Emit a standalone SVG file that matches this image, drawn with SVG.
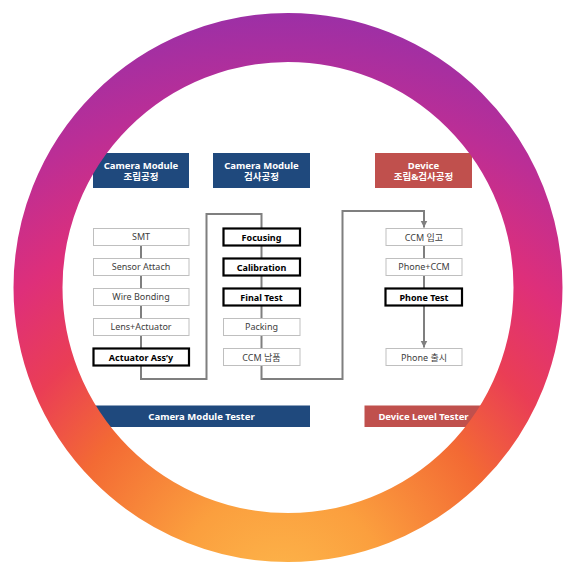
<svg xmlns="http://www.w3.org/2000/svg" width="578" height="574" viewBox="0 0 578 574">
<defs>
<radialGradient id="ringGrad" gradientUnits="userSpaceOnUse" cx="280" cy="600" r="610">
<stop offset="0" stop-color="#fdb84c"/>
<stop offset="0.18" stop-color="#fb9f3e"/>
<stop offset="0.38" stop-color="#f36a34"/>
<stop offset="0.52" stop-color="#ea3e55"/>
<stop offset="0.66" stop-color="#de2f7a"/>
<stop offset="0.82" stop-color="#bb2e96"/>
<stop offset="1" stop-color="#9430aa"/>
</radialGradient>
<marker id="arr" markerWidth="8" markerHeight="8" refX="7" refY="4" orient="auto" markerUnits="userSpaceOnUse">
<path d="M0,0.5 L7,4 L0,7.5 Z" fill="#7f7f7f"/>
</marker>
<style>
text{font-family:"Noto Sans","Noto Sans CJK KR",sans-serif;text-anchor:middle;}
.hdr{fill:#1f497d;}
.hdrR{fill:#c0504d;}
.ht{fill:#ffffff;font-size:9.5px;font-weight:bold;}
.box{fill:#ffffff;stroke:#bfbfbf;stroke-width:1;}
.bbox{fill:#ffffff;stroke:#000000;stroke-width:2.2;}
.t{fill:#404040;font-size:9px;}
.bt{fill:#000000;font-size:9px;font-weight:bold;}
.ln{fill:none;stroke:#7f7f7f;stroke-width:2;}
</style>
</defs>
<rect width="578" height="574" fill="#ffffff"/>

<g id="connectors">
<path class="ln" d="M141,246 V348"/>
<path class="ln" d="M141,366 V379 H206.5 V214 H261.5 V228"/>
<path class="ln" d="M261.5,246 V348"/>
<path class="ln" d="M261.5,366 V379 H342.5 V211 H424 V227.5" marker-end="url(#arr)"/>
<path class="ln" d="M424,246 V288"/>
<path class="ln" d="M424,306 V347.5" marker-end="url(#arr)"/>
</g>

<g id="hdr-assembly">
<rect class="hdr" x="93" y="153" width="96" height="35"/>
<text class="ht" x="141" y="168.5">Camera Module</text>
<text class="ht" x="141" y="180">조립공정</text>
</g>
<g id="hdr-inspection">
<rect class="hdr" x="213" y="153" width="97" height="35"/>
<text class="ht" x="261.5" y="168.5">Camera Module</text>
<text class="ht" x="261.5" y="180">검사공정</text>
</g>
<g id="hdr-device">
<rect class="hdrR" x="375" y="153" width="97" height="35"/>
<text class="ht" x="423.5" y="168.5">Device</text>
<text class="ht" x="423.5" y="180">조립&amp;검사공정</text>
</g>

<g id="smt"><rect class="box" x="93.5" y="228.5" width="95.5" height="17"/><text class="t" x="141" y="240">SMT</text></g>
<g id="sensor-attach"><rect class="box" x="93.5" y="258.5" width="95.5" height="17"/><text class="t" x="141" y="270">Sensor Attach</text></g>
<g id="wire-bonding"><rect class="box" x="93.5" y="288.5" width="95.5" height="17"/><text class="t" x="141" y="300">Wire Bonding</text></g>
<g id="lens-actuator"><rect class="box" x="93.5" y="318.5" width="95.5" height="17"/><text class="t" x="141" y="330">Lens+Actuator</text></g>
<g id="actuator-assy"><rect class="bbox" x="93.5" y="348.5" width="95.5" height="17"/><text class="bt" x="141" y="360.5">Actuator Ass’y</text></g>

<g id="focusing"><rect class="bbox" x="223.5" y="228.5" width="76.5" height="17"/><text class="bt" x="261.5" y="240.5">Focusing</text></g>
<g id="calibration"><rect class="bbox" x="223.5" y="258.5" width="76.5" height="17"/><text class="bt" x="261.5" y="270.5">Calibration</text></g>
<g id="final-test"><rect class="bbox" x="223.5" y="288.5" width="76.5" height="17"/><text class="bt" x="261.5" y="300.5">Final Test</text></g>
<g id="packing"><rect class="box" x="223.5" y="318.5" width="76.5" height="17"/><text class="t" x="261.5" y="330">Packing</text></g>
<g id="ccm-delivery"><rect class="box" x="223.5" y="348.5" width="76.5" height="17"/><text class="t" x="261.5" y="360.5">CCM 납품</text></g>

<g id="ccm-receive"><rect class="box" x="386" y="228.5" width="76" height="17"/><text class="t" x="424" y="240.5">CCM 입고</text></g>
<g id="phone-ccm"><rect class="box" x="386" y="258.5" width="76" height="17"/><text class="t" x="424" y="270">Phone+CCM</text></g>
<g id="phone-test"><rect class="bbox" x="385.5" y="288.5" width="76.5" height="17"/><text class="bt" x="424" y="300.5">Phone Test</text></g>
<g id="phone-release"><rect class="box" x="386" y="348.5" width="76" height="17"/><text class="t" x="424" y="360.5">Phone 출시</text></g>

<g id="camera-module-tester">
<rect class="hdr" x="93" y="405.5" width="217" height="21.5"/>
<text class="ht" x="201.5" y="419.5">Camera Module Tester</text>
</g>
<g id="device-level-tester">
<rect class="hdrR" x="364.5" y="405.5" width="118" height="21.5"/>
<text class="ht" x="423.5" y="419.5">Device Level Tester</text>
</g>

<circle cx="288" cy="287.5" r="250" fill="none" stroke="url(#ringGrad)" stroke-width="49"/>
</svg>
